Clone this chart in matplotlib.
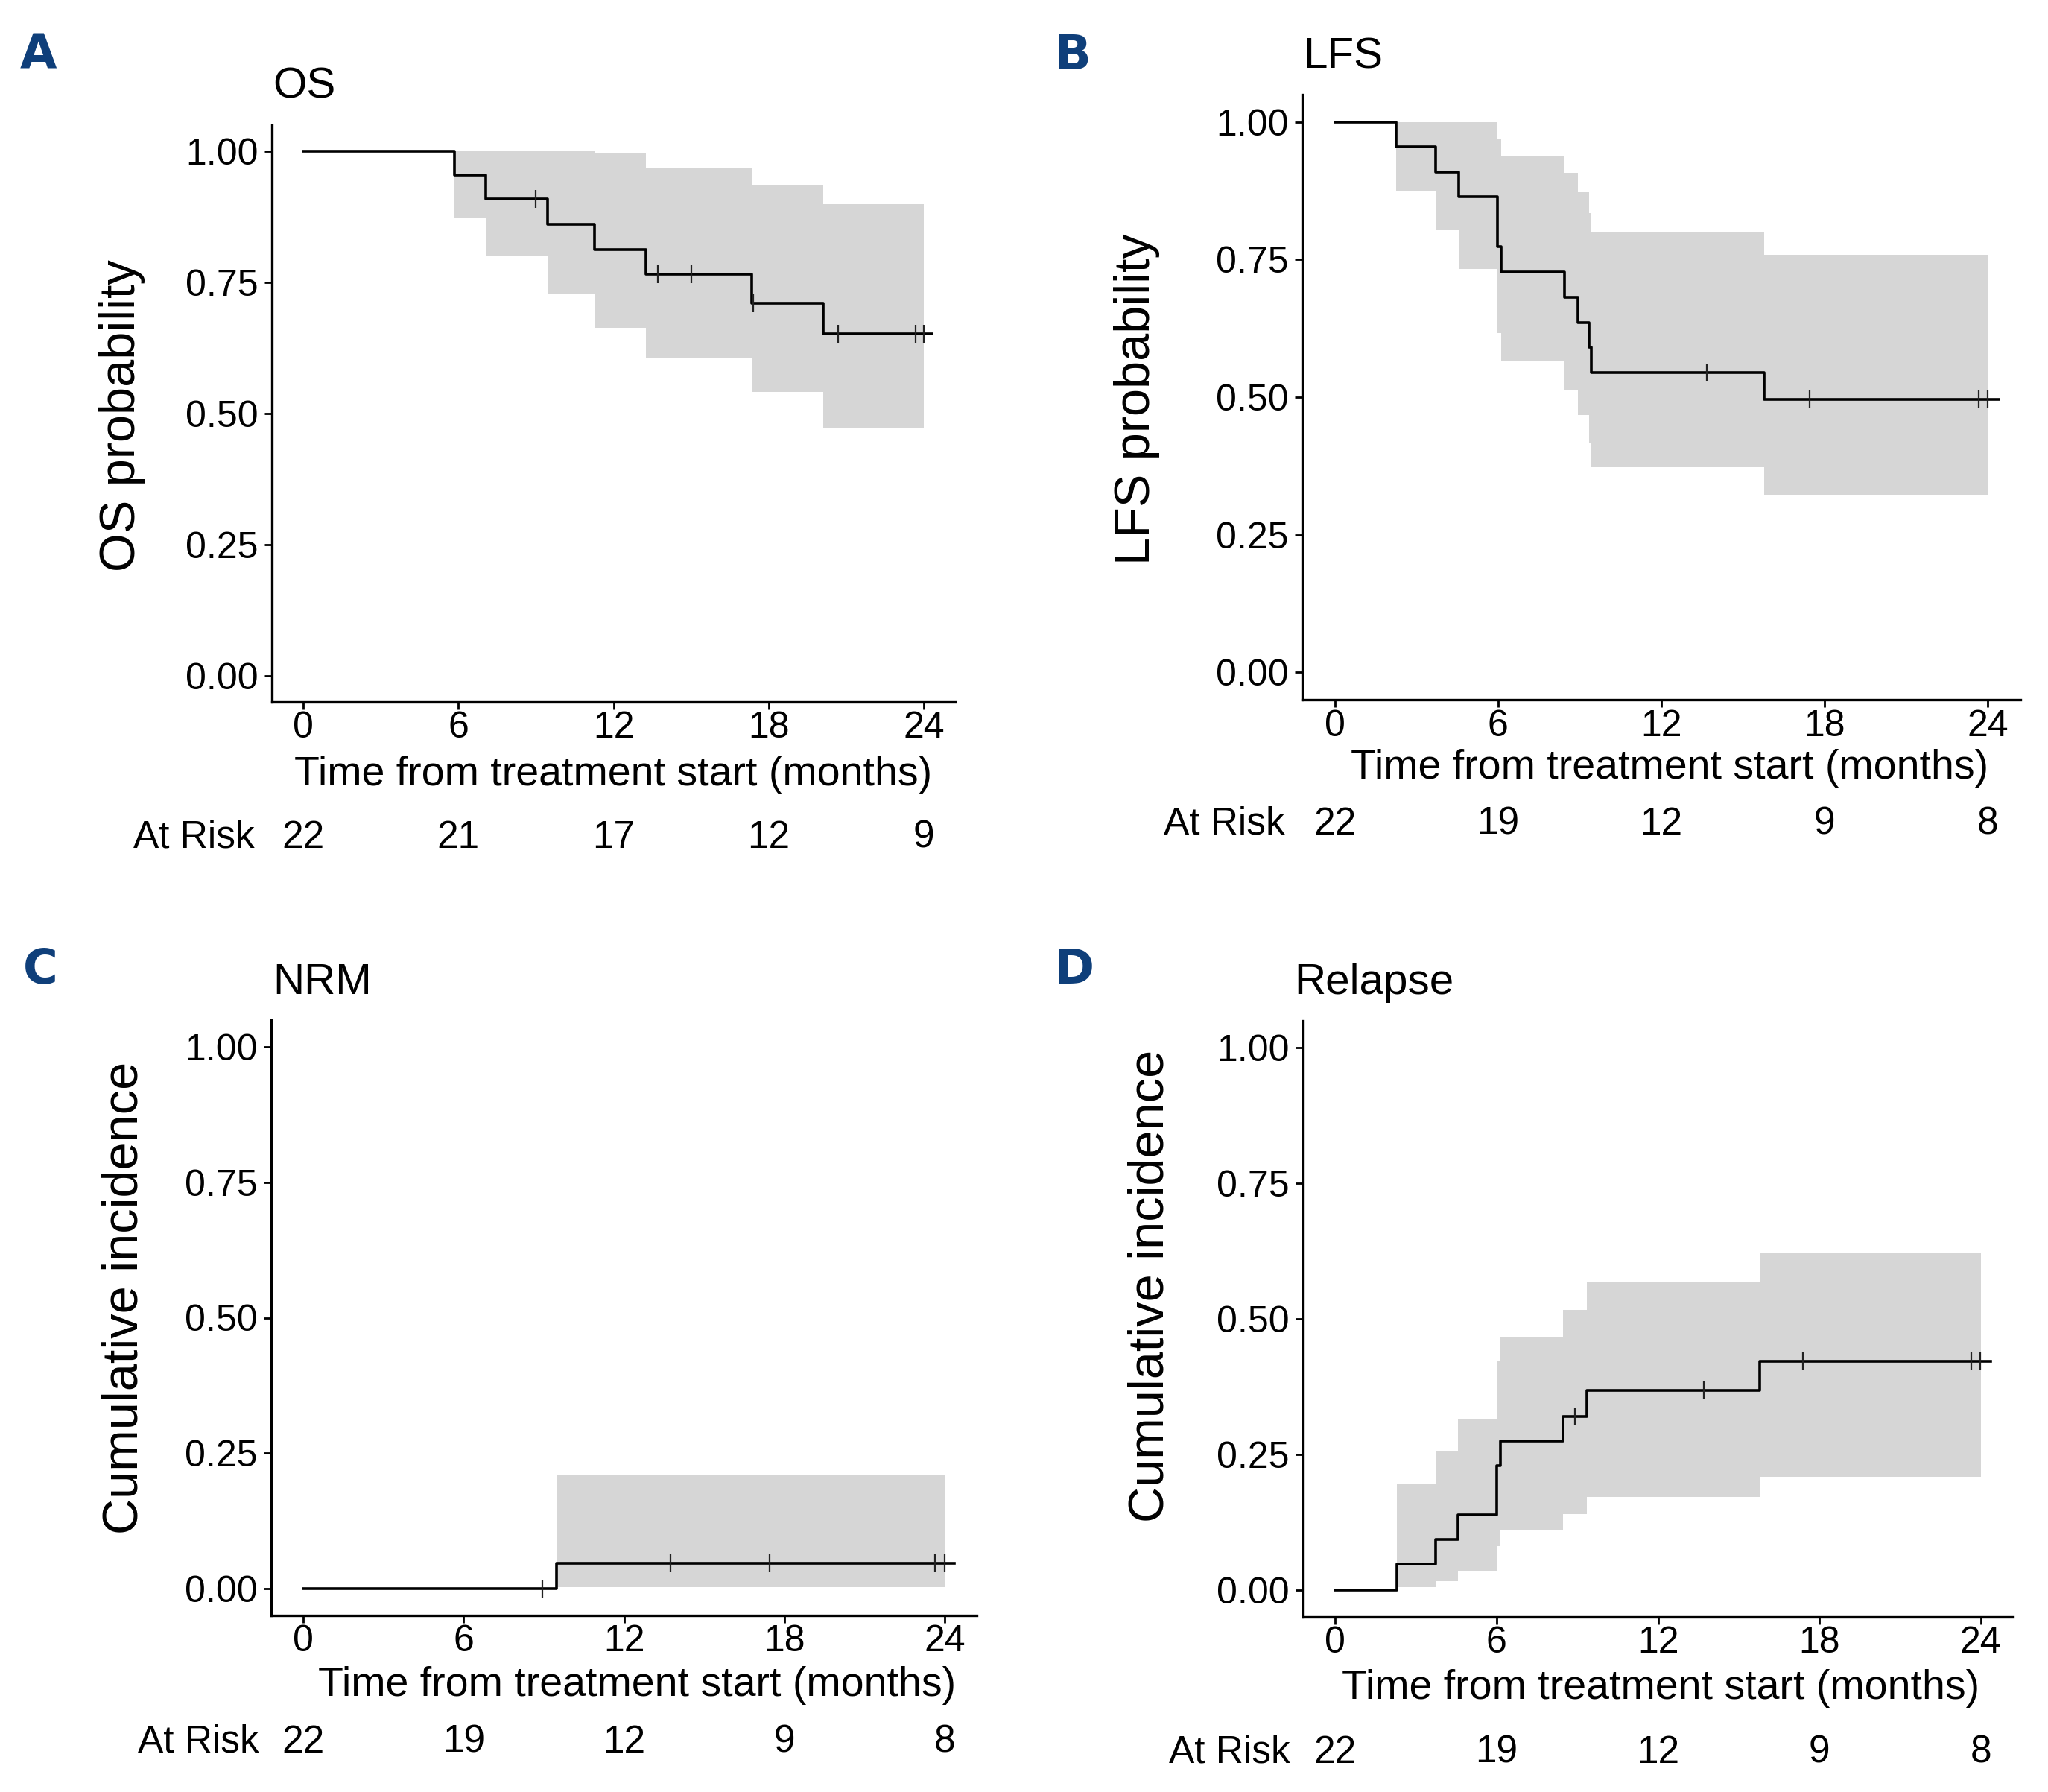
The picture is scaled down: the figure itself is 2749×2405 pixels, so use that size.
import matplotlib
matplotlib.use('Agg')
import matplotlib.pyplot as plt
import matplotlib.transforms as mtransforms

plt.rcParams['font.family'] = ['Liberation Sans', 'DejaVu Sans']

W, H = 2749, 2405

# ---- data ----
months = [0, 6, 12, 18, 24]

# A: OS
os_t = [0, 5.85, 7.07, 9.45, 11.28, 13.25, 17.33, 20.09]
os_s = [1.0, 0.955, 0.909, 0.861, 0.813, 0.766, 0.711, 0.652]
os_lo = [1.0, 0.873, 0.800, 0.727, 0.664, 0.606, 0.541, 0.471]
os_hi = [1.0, 1.0, 1.0, 1.0, 0.997, 0.968, 0.937, 0.900]
os_cens = [8.99, 13.71, 15.01, 17.41, 20.68, 23.67, 24.0]
os_end = 24.3
os_risk = [22, 21, 17, 12, 9]

# B: LFS
lfs_t = [0, 2.26, 3.69, 4.54, 5.98, 6.12, 8.45, 8.94, 9.35, 9.43, 15.79]
lfs_s = [1.0, 0.955, 0.909, 0.864, 0.773, 0.727, 0.682, 0.636, 0.591, 0.545, 0.496]
lfs_lo = [1.0, 0.875, 0.803, 0.733, 0.617, 0.565, 0.512, 0.467, 0.418, 0.373, 0.323]
lfs_hi = [1.0, 1.0, 1.0, 1.0, 0.969, 0.939, 0.908, 0.872, 0.835, 0.799, 0.759]
lfs_cens = [13.67, 17.44, 23.68, 24.0]
lfs_end = 24.4
lfs_risk = [22, 19, 12, 9, 8]

# C: NRM
nrm_t = [0, 9.48]
nrm_s = [0.0, 0.047]
nrm_lo = [0.0, 0.002]
nrm_hi = [0.0, 0.209]
nrm_cens = [8.94, 13.75, 17.46, 23.63, 24.0]
nrm_end = 24.37
nrm_risk = [22, 19, 12, 9, 8]

# D: Relapse
rel_t = [0, 2.28, 3.73, 4.57, 5.99, 6.14, 8.47, 9.36, 15.77]
rel_s = [0.0, 0.048, 0.093, 0.138, 0.229, 0.274, 0.320, 0.368, 0.421]
rel_lo = [0.0, 0.005, 0.016, 0.035, 0.081, 0.110, 0.140, 0.171, 0.208]
rel_hi = [0.0, 0.195, 0.256, 0.314, 0.421, 0.467, 0.517, 0.568, 0.622]
rel_cens = [8.92, 13.71, 17.39, 23.65, 23.97]
rel_end = 24.37
rel_risk = [22, 19, 12, 9, 8]

fig = plt.figure(figsize=(W / 100, H / 100), dpi=100)


def fx(x):
    return x / W


def fy(y):
    return 1 - y / H


def step_value(t, s, x):
    v = s[0]
    for ti, si in zip(t, s):
        if ti <= x:
            v = si
    return v


panels = [
    # letter, title, ylabel, data, box(l, r, t, b), letter pos, title pos, ylabel x, ylabel y, xlabel pos, risk label pos
    ('A', 'OS', 'OS probability', (os_t, os_s, os_lo, os_hi, os_cens, os_end, os_risk),
     (365, 1282, 168, 942), (27, 93), (366, 132), 164, 558, (823, 1040), (342, 1124)),
    ('B', 'LFS', 'LFS probability', (lfs_t, lfs_s, lfs_lo, lfs_hi, lfs_cens, lfs_end, lfs_risk),
     (1748, 2712, 127, 939), (1415, 93), (1749, 92), 1526, 536, (2241, 1031), (1725, 1106)),
    ('C', 'NRM', 'Cumulative incidence', (nrm_t, nrm_s, nrm_lo, nrm_hi, nrm_cens, nrm_end, nrm_risk),
     (364, 1311, 1369, 2168), (31, 1320), (366, 1334), 168, 1742, (855, 2262), (348, 2338)),
    ('D', 'Relapse', 'Cumulative incidence', (rel_t, rel_s, rel_lo, rel_hi, rel_cens, rel_end, rel_risk),
     (1749, 2702, 1370, 2170), (1415, 1320), (1737, 1334), 1544, 1726, (2229, 2266), (1732, 2352)),
]

for (letter, title, ylab, data, box, lpos, tpos, ylx, yly, xlpos, rpos) in panels:
    t, s, lo, hi, cens, tend, risk = data
    l, r, tp, b = box
    ax = fig.add_axes([fx(l), fy(b), fx(r) - fx(l), fy(tp) - fy(b)])

    # confidence band, only over steps after the first event
    ft = t[1:] + [24.0]
    ax.fill_between(ft, lo[1:] + [lo[-1]], hi[1:] + [hi[-1]], step='post',
                    color='#d6d6d6', linewidth=0, zorder=1)

    ax.step(t + [tend], s + [s[-1]], where='post', color='black', lw=2.6, zorder=3)
    cy = [step_value(t, s, c) for c in cens]
    ax.plot(cens, cy, linestyle='none', marker='|', markersize=17,
            markeredgewidth=1.6, color='#222222', zorder=4)

    ax.set_xlim(-1.2, 25.2)
    ax.set_ylim(-0.05, 1.05)
    ax.set_xticks(months)
    ax.set_yticks([0, 0.25, 0.5, 0.75, 1.0])
    ax.set_yticklabels(['0.00', '0.25', '0.50', '0.75', '1.00'])
    ax.tick_params(labelsize=36, length=7, width=2.0, colors='black')
    ax.tick_params(axis='x', pad=2)
    ax.tick_params(axis='y', pad=6)
    for side in ['top', 'right']:
        ax.spines[side].set_visible(False)
    for side in ['left', 'bottom']:
        ax.spines[side].set_linewidth(2.4)

    fig.text(fx(lpos[0]), fy(lpos[1]), letter, fontsize=46, fontweight='bold',
             color='#0f3f7a', ha='left', va='baseline', family='DejaVu Sans')
    fig.text(fx(tpos[0]), fy(tpos[1]), title, fontsize=42, ha='left', va='baseline')
    fig.text(fx(ylx), fy(yly), ylab, fontsize=48, rotation=90, ha='center', va='center')
    fig.text(fx(xlpos[0]), fy(xlpos[1]), 'Time from treatment start (months)',
             fontsize=40, ha='center', va='center')

    fig.text(fx(rpos[0]), fy(rpos[1]), 'At Risk', fontsize=37, ha='right', va='center')
    tr = mtransforms.blended_transform_factory(ax.transData, fig.transFigure)
    for m, n in zip(months, risk):
        ax.text(m, fy(rpos[1]), str(n), fontsize=37, ha='center', va='center',
                transform=tr, clip_on=False)

fig.savefig('out.png', dpi=100, facecolor='white')
